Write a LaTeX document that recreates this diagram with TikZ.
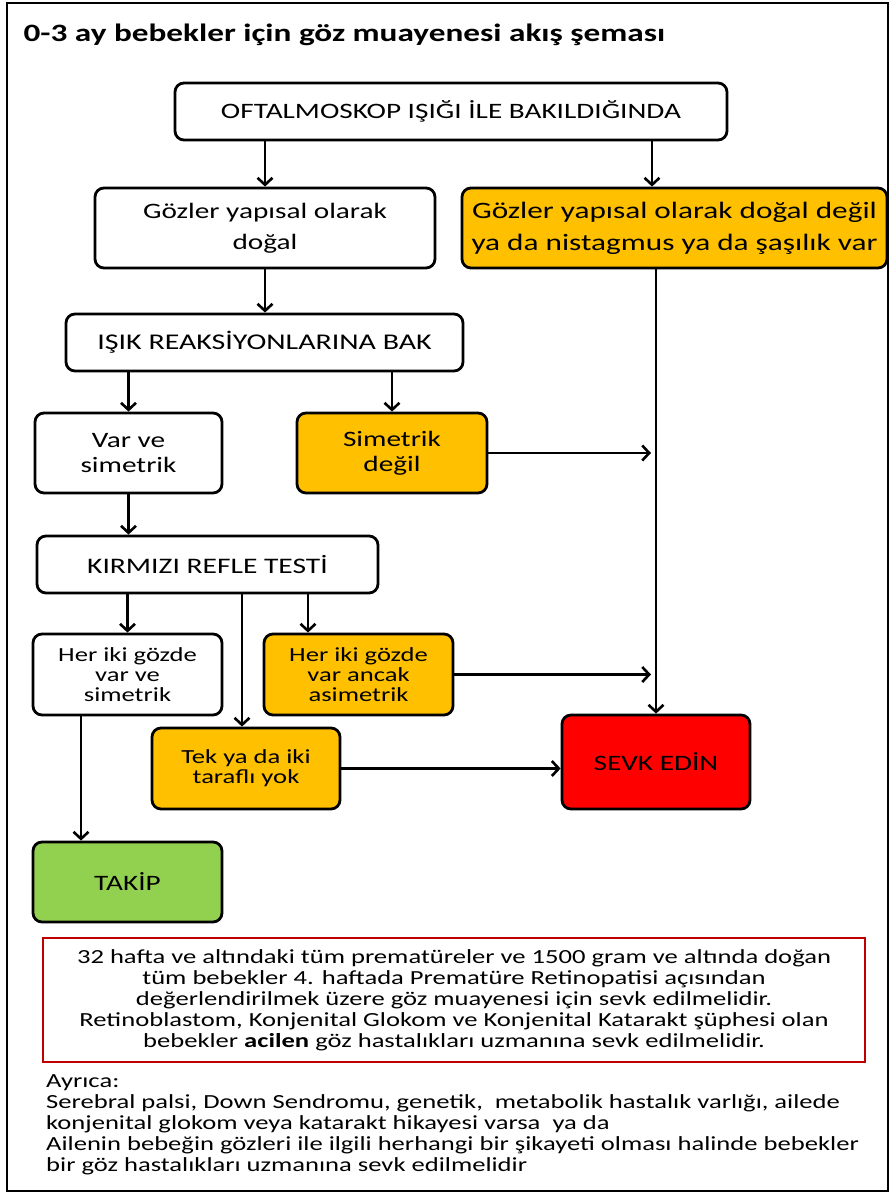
\documentclass[tikz,border=0pt]{standalone}
\usepackage{fontspec}
\setmainfont{Carlito}[FakeStretch=1.33]
\usetikzlibrary{arrows.meta}
\definecolor{amber}{HTML}{FFC000}
\definecolor{alarm}{HTML}{FF0000}
\definecolor{leaf}{HTML}{92D050}
\definecolor{darkred}{HTML}{C00000}
\begin{document}
\begin{tikzpicture}[x=1pt,y=-1pt,
  box/.style={draw=black,line width=2.8pt,rounded corners=9pt,align=center,
    inner sep=0pt,font=\fontsize{22}{31}\selectfont},
  small/.style={font=\fontsize{20}{20}\selectfont},
  arr/.style={line width=2.6pt,-{Straight Barb[length=7pt,width=15pt]}}]
\useasboundingbox (0,0) rectangle (890,1198);
% outer frame
\draw[line width=2.6pt] (7,3) rectangle (888,1191);
% title
\node[anchor=west,font=\fontsize{25}{30}\selectfont\bfseries] (title) at (20,35)
  {0-3 ay bebekler için göz muayenesi akış şeması};
% flow boxes
\node[box,minimum width=552pt,minimum height=57pt] (b1) at (451,111.5)
  {OFTALMOSKOP IŞIĞI İLE BAKILDIĞINDA};
\node[box,minimum width=340pt,minimum height=80pt] (b2) at (265,228)
  {Gözler yapısal olarak\\doğal};
\node[box,fill=amber,font=\fontsize{23.5}{32}\selectfont,minimum width=425pt,minimum height=80pt] (b3) at (674.5,228)
  {Gözler yapısal olarak doğal değil\\ya da nistagmus ya da şaşılık var};
\node[box,font=\fontsize{22.5}{31}\selectfont,minimum width=397pt,minimum height=57pt] (b4) at (264.5,342.5)
  {IŞIK REAKSİYONLARINA BAK};
\node[box,minimum width=187pt,minimum height=80pt,font=\fontsize{22}{25}\selectfont] (b5) at (128.5,453)
  {Var ve\\simetrik};
\node[box,fill=amber,minimum width=190pt,minimum height=80pt,font=\fontsize{22}{25}\selectfont] (b6) at (392,453)
  {Simetrik\\değil};
\node[box,minimum width=341pt,minimum height=57pt,font=\fontsize{22.2}{25}\selectfont] (b7) at (207.5,564.5)
  {KIRMIZI REFLE TESTİ};
\node[box,small,minimum width=189pt,minimum height=81pt] (b8) at (127.5,674.5)
  {Her iki gözde\\var ve\\simetrik};
\node[box,small,fill=amber,minimum width=189pt,minimum height=81pt] (b9) at (358.5,674.5)
  {Her iki gözde\\var ancak\\asimetrik};
\node[box,small,fill=amber,minimum width=188pt,minimum height=81pt] (b10) at (246,768.5)
  {Tek ya da iki\\taraflı yok};
\node[box,fill=alarm,minimum width=188pt,minimum height=94pt] (sevk) at (656,762)
  {SEVK EDİN};
\node[box,fill=leaf,minimum width=189pt,minimum height=80pt] (takip) at (127.5,882)
  {TAKİP};
% branch columns
\coordinate (c652) at (652,0);
\coordinate (c308) at (308,0);
\coordinate (c242) at (242,0);
\coordinate (c81) at (81,0);
% connectors
\draw[arr] (b1.south -| b2.north) -- (b2.north);
\draw[arr] (b1.south -| c652) -- (b3.north -| c652);
\draw[arr] (b2.south) -- (b2.south |- b4.north);
\draw[arr] (b4.south -| b5.north) -- (b5.north);
\draw[arr] (b4.south -| b6.north) -- (b6.north);
\draw[arr] (b3.south -| sevk.north) -- (sevk.north);
\draw[arr,shorten >=5pt] (b6.east) -- (b6.east -| sevk.north);
\draw[arr] (b5.south) -- (b5.south |- b7.north);
\draw[arr] (b7.south -| b8.north) -- (b8.north);
\draw[arr] (b7.south -| c308) -- (b9.north -| c308);
\draw[arr] (b7.south -| c242) -- (b10.north -| c242);
\draw[arr,shorten >=5pt] (b9.east) -- (b9.east -| sevk.north);
\draw[arr] (b10.east) -- (b10.east -| sevk.west);
\draw[arr] (b8.south -| c81) -- (takip.north -| c81);
% referral note
\node[draw=darkred,line width=2.8pt,minimum width=822pt,minimum height=124pt,
  align=center,inner sep=0pt,font=\fontsize{20}{21}\selectfont] (note) at (454,1000)
  {32 hafta ve altındaki tüm prematüreler ve 1500 gram ve altında doğan\\
   tüm bebekler 4. haftada Prematüre Retinopatisi açısından\\
   değerlendirilmek üzere göz muayenesi için sevk edilmelidir.\\
   Retinoblastom, Konjenital Glokom ve Konjenital Katarakt şüphesi olan\\
   bebekler \textbf{acilen} göz hastalıkları uzmanına sevk edilmelidir.};
% additional remarks
\node[anchor=north west,align=left,inner sep=0pt,font=\fontsize{20}{21}\selectfont] (extra) at (46,1074)
  {Ayrıca:\\
   Serebral palsi, Down Sendromu, genetik,~ metabolik hastalık varlığı, ailede\\
   konjenital glokom veya katarakt hikayesi varsa~ ya da\\
   Ailenin bebeğin gözleri ile ilgili herhangi bir şikayeti olması halinde bebekler\\
   bir göz hastalıkları uzmanına sevk edilmelidir};
\end{tikzpicture}
\end{document}
